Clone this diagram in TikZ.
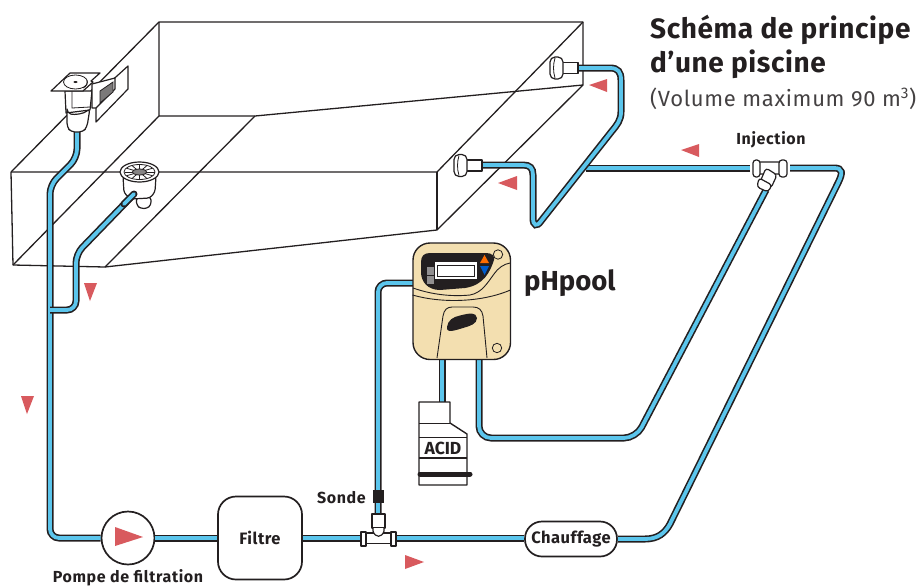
\documentclass[tikz,border=0pt]{standalone}
\usepackage{fontspec}
\setmainfont{Fira Sans}
\usetikzlibrary{calc}
\definecolor{ink}{HTML}{231F20}
\definecolor{pipeblue}{HTML}{5BC5EC}
\definecolor{flag}{HTML}{D85A5E}
\definecolor{beige}{HTML}{F3DFB0}
\newcommand{\lsp}[1]{\addfontfeatures{LetterSpace=#1}}
\tikzset{
  x=1pt,y=-1pt,
  pipe/.style={draw=ink,line width=1.6pt,double=pipeblue,double distance=3.8pt,rounded corners=#1,line cap=butt},
  pipe/.default=9pt,
  wall/.style={draw=ink,line width=1.3pt,line join=round},
  part/.style={draw=ink,line width=1.2pt,fill=white,line join=round},
  fine/.style={draw=ink,line width=.8pt},
  flow/.style={fill=flag,draw=none},
  box/.style={draw=ink,line width=1.7pt,fill=white,font=\bfseries\fontsize{16.5}{17}\selectfont\lsp{3},text=ink,inner sep=0pt},
  lab/.style={font=\bfseries\fontsize{16}{16}\selectfont\lsp{4},text=ink,inner sep=0pt},
}
\begin{document}
\begin{tikzpicture}
\useasboundingbox (0,0) rectangle (924,587);
% pool
\draw[wall] (159,22) -- (583,22) -- (583,85) -- (255,116) -- (159,116) -- cycle;
\draw[wall] (11,172) -- (159,22);
\draw[wall] (13,265) -- (159,116);
\draw[wall] (105,267) -- (255,116);
\draw[wall] (11,172) -- (437,172) -- (583,22);
\draw[wall] (11,172) -- (13,265) -- (105,267) -- (437,230) -- (583,85);
\draw[wall] (437,172) -- (437,230);

% named parts
\node[box,circle,minimum size=53pt] (pump) at (128,538) {};
\node[box,rounded corners=18pt,minimum width=84pt,minimum height=83pt] (filter) at (260,538) {Filtre};
\node[box,rounded corners=17pt,minimum width=92pt,minimum height=35pt] (heat) at (571,539) {Chauffage};
\coordinate (skim) at (77,131);
\coordinate (drain) at (135,193);
\coordinate (teeL) at (362,538);
\coordinate (teeR) at (396,538);
\coordinate (teeT) at (378,515);
\coordinate (inA) at (483,165);
\coordinate (inB) at (578,68);
\coordinate (injL) at (750,168);
\coordinate (injR) at (790,168);
\coordinate (injD) at (766,190);
\coordinate (join) at (586,168);
\coordinate (ctrlL) at (415,283);
\coordinate (ctrlA) at (442,358);
\coordinate (ctrlB) at (479,358);
\coordinate (acidtop) at (442,403);

% pipes
\draw[pipe] (skim) -- (77,158) -- (50,185) -- (50,538) -- (pump.west);
\draw[pipe] (drain) -- (76,254) -- (76,310) -- (50,310);
\draw[pipe=0pt] (pump.east) -- (filter.west);
\draw[pipe=0pt] (filter.east) -- (teeL);
\draw[pipe=0pt] (teeR) -- (heat.west |- teeR);
\draw[pipe=0pt] (heat.east) -- (645,539) .. controls (658,539) and (665,533) .. (670,524) -- (838,183) .. controls (843,173) and (843,168) .. (834,168) -- (injR);
\draw[pipe=0pt] (injL) -- (join);
\draw[pipe=0pt] (inB) -- (610,68) .. controls (618,68) and (621,72) .. (621,80) -- (621,112) .. controls (621,120) and (617,125) .. (612,131) -- (541,221) .. controls (537,227) and (533,226) .. (533,218) -- (533,175) .. controls (533,168) and (530,165) .. (523,165) -- (inA);
\draw[pipe=9pt] (teeT) -- (378,283) -- (ctrlL);
\draw[pipe=0pt] (ctrlA) -- (acidtop);
\draw[pipe=12pt] (ctrlB) -- (479,438) -- (636,438) -- (injD);

% flow arrows
\fill[flow] (84,283) -- (97,283) -- (90,301) -- cycle;
\fill[flow] (21,396) -- (34,396) -- (27,414) -- cycle;
\fill[flow] (607,79) -- (607,92) -- (589,85) -- cycle;
\fill[flow] (699,144) -- (699,157) -- (681,150) -- cycle;
\fill[flow] (517,176) -- (517,190) -- (498,183) -- cycle;
\fill[flow] (405,555) -- (405,569) -- (424,562) -- cycle;
\fill[flow] (115,527) -- (115,546) -- (143,537) -- cycle;

% wall fittings
\foreach \x/\y in {550/68,454/165.5}{
  \begin{scope}[shift={(\x,\y)}]
    \draw[part] (11,-5.500) rectangle (28,5.500);
    \draw[part,rounded corners=5pt] (0,-11) rectangle (13,11);
    \draw[fine] (5,-10) .. controls (3,-3) and (3,3) .. (5,10);
    \draw[draw=ink,line width=2.2pt] (28,-4.500) -- (28,4.500);
  \end{scope}
}

% skimmer
\draw[part] (65,91) -- (66,113) -- (90,110) -- (92,91) -- cycle;
\draw[fine] (72,91) -- (72,108) -- (90,107);
\draw[part,rounded corners=4pt] (67,113) -- (67,127) -- (71,132) -- (83,132) -- (87,127) -- (90,108) .. controls (84,114) and (74,115) .. (67,113) -- cycle;
\draw[part] (96,95) -- (128,66) -- (128,89) -- (96,122) -- cycle;
\draw[part] (92,84) -- (115,78) -- (115,89) -- (96,108) -- (92,108) -- cycle;
\draw[fine,fill=ink!60] (100,91) -- (113,82) -- (113,92) -- (100,103) -- cycle;
\draw[part] (51,91) -- (70,73) -- (100,73) -- (91,81) -- (93,82) -- (83,91) -- cycle;
\draw[fine,fill=white] (75.500,82) ellipse (12 and 7);
\fill[ink] (75.500,82) ellipse (2 and 1);
\draw[fine] (83,88) .. controls (87,86) and (88,83) .. (87,80);

% drain
\draw[part,rounded corners=3pt] (136,198) -- (137,206) -- (141,208.500) -- (147,208.500) -- (151,205) -- (151,197) -- cycle;
\draw[part,rounded corners=3pt] (123,176) -- (124,193) -- (131,199) -- (150,198) -- (155,192) -- (156,176) -- cycle;
\draw[part] (139.500,172) ellipse (19.500 and 10);
\draw[fine] (139.500,172) ellipse (15.500 and 7.500);
\foreach \a in {0,30,...,150}{\draw[fine] ($(139.5,172)+(\a:15 and 7.5)$) -- ($(139.5,172)+(\a+180:15 and 7.5)$);}
\draw[fine,fill=ink!55] (139.500,172) ellipse (7 and 3);

% drain pipe end on top of the drain
\draw[pipe=0pt,line cap=round] (134,194) -- (124,204);

% sonde tee
\draw[part] (372,514) rectangle (385,528);
\draw[part] (366,533) rectangle (391,543.500);
\draw[part] (361,532) rectangle (366,546);
\draw[part] (391,532) rectangle (396,546);
\draw[part] (373,528) -- (373,531) .. controls (375,538) and (382,538) .. (384,531) -- (384,528);
\fill[ink] (373,490) rectangle (384,503);

% injection tee
\draw[part,rounded corners=2pt] (758,162) -- (782,162) -- (782,174) -- (758,174) -- cycle;
\draw[part,rounded corners=3pt] (753,160) rectangle (760,177);
\draw[part,rounded corners=3pt] (779,160) rectangle (787,177);
\draw[part,rounded corners=3pt] (766,168) -- (777,175) -- (771,188) -- (760,182) -- cycle;
\draw[part,rounded corners=3pt] (759,178) -- (772,185) -- (768,192) -- (757,187) -- cycle;

% acid bottle
\draw[part,line width=1.4pt] (419,402) -- (450,402) -- (450,423) -- (467,434) -- (467,485) -- (419,485) -- cycle;
\draw[wall] (419,423.500) -- (450,423.500);
\draw[wall] (419,437.500) -- (467,437.500);
\draw[wall] (419,458) -- (467,458);
\draw[draw=ink,line width=5pt,line cap=round] (420,474) -- (470,474);
\node[lab,font=\bfseries\fontsize{17.5}{18}\selectfont] (acid) at (443,448) {ACID};

% controller
\draw[draw=ink,line width=1.4pt,fill=beige,rounded corners=17pt] (413,243) rectangle (510.500,359.500);
\fill[ink] (430,253) -- (486,253) .. controls (492,253) and (495,256) .. (494,260) .. controls (490,272) and (484,285) .. (465,288) -- (440,290) .. controls (428,290) and (421,282) .. (421,272) -- (421,262) .. controls (421,256) and (424,253) .. (430,253) -- cycle;
\draw[draw=white,line width=.8pt,fill=white] (435.500,262.500) rectangle (476,278);
\draw[draw=ink,line width=.8pt,fill=white] (437,265) rectangle (474,276);
\fill[ink!50] (427,267) rectangle (434,275);
\fill[ink!50] (427,276) rectangle (434,283.500);
\fill[orange!85!red] (480,263) -- (489,263) -- (484.500,255) -- cycle;
\fill[blue!55!cyan!80!black] (480,266) -- (489,266) -- (484.500,275) -- cycle;
\draw[fine,fill=beige] (498,254.500) circle (4.700);
\draw[fine,fill=beige] (497,348) circle (4.700);
\draw[fine,line width=.9pt] (413,288) .. controls (430,294) and (450,297) .. (470,295) .. controls (482,293) and (488,282) .. (494,274) .. controls (498,268) and (504,264) .. (510,263);
\draw[fine,line width=.9pt] (412.500,295) .. controls (440,303) and (480,303) .. (510.500,290);
\draw[fine,line width=.9pt] (437,358) -- (443,316) .. controls (444,310) and (447,307) .. (452,307) -- (473,307) .. controls (479,307) and (482,310) .. (483,316) -- (487,358);
\fill[ink] (447,327) .. controls (448,320) and (453,317) .. (460,315.500) .. controls (470,313) and (476,312) .. (477,318) .. controls (477,324) and (470,326) .. (463,328) .. controls (456,330) and (446,334) .. (447,327) -- cycle;

% texts
\node[lab,anchor=east] (sonde) at (366,497.500) {Sonde};
\node[lab] (inj) at (771,140) {Injection};
\node[lab] (pumplabel) at (128,577.500) {Pompe de filtration};
\node[font=\bfseries\fontsize{27.5}{28}\selectfont,text=ink,inner sep=0pt,anchor=west] (ph) at (524,283) {pHpool};
\node[font=\bfseries\fontsize{28}{28}\selectfont\lsp{2.2},text=ink,inner sep=0pt,anchor=base west] (t1) at (650,38) {Schéma de principe};
\node[font=\bfseries\fontsize{28}{28}\selectfont\lsp{2.2},text=ink,inner sep=0pt,anchor=base west] (t2) at (650,72) {d’une piscine};
\node[font=\fontsize{22}{22}\selectfont\lsp{3},text=ink!85,inner sep=0pt,anchor=base west] (t3) at (650,106) {(Volume maximum 90 m\textsuperscript{3})};
\end{tikzpicture}
\end{document}
